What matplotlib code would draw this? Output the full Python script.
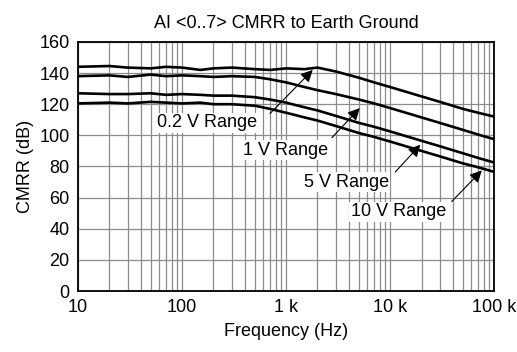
import matplotlib.pyplot as plt
from matplotlib.ticker import FixedLocator, LogLocator, NullFormatter

plt.rcParams['font.family'] = ['Liberation Sans', 'DejaVu Sans']

# Data
freq = [10, 20, 30, 50, 70, 100, 150, 200, 300, 500, 700, 1000, 1500,
        2000, 3000, 5000, 7000, 10000, 20000, 30000, 50000, 70000, 100000]
cmrr_02v = [144, 144.5, 143.5, 143, 144, 143.5, 142, 143, 143.5, 142.5, 142, 143,
            142.5, 143.5, 141, 137, 134, 131, 125, 121.5, 117, 114.5, 112]
cmrr_1v = [138, 138.5, 137.5, 139, 138, 138.5, 138, 137.5, 138, 137.5, 136, 134,
           131, 129, 126.5, 123, 120.5, 117.5, 111.5, 108, 103.5, 100.5, 97.5]
cmrr_5v = [127, 126.5, 126.5, 127, 126, 126.5, 126, 125.5, 125.5, 124.5, 123, 121,
           118, 116, 112.5, 108, 105.5, 102.5, 96.5, 93, 88.5, 85.5, 82.5]
cmrr_10v = [120.5, 121, 120.5, 121.5, 121, 120.5, 121, 120, 120, 119, 117, 114.5,
            111.5, 109.5, 106, 101.5, 99, 96, 90, 86.5, 82, 79.5, 76.5]

x_ticks = [10, 100, 1000, 10000, 100000]
x_labels = ["10", "100", "1 k", "10 k", "100 k"]
y_ticks = [0, 20, 40, 60, 80, 100, 120, 140, 160]

# label text, text position, arrow tail and tip
labels = ["0.2 V Range", "1 V Range", "5 V Range", "10 V Range"]
text_pos = [(175, 108), (980, 90.5), (3800, 70), (12000, 51)]
tail_pos = [(700, 114), (2750, 98.5), (11200, 76.5), (39000, 57.5)]
tip_pos = [(1800, 142), (5100, 117.5), (19500, 94), (76000, 77.5)]

fig = plt.figure(figsize=(5.17, 3.52), dpi=100)
ax = fig.add_axes([0.151, 0.173, 0.805, 0.708])

for series in [cmrr_02v, cmrr_1v, cmrr_5v, cmrr_10v]:
    ax.plot(freq, series, color='black', lw=1.9, zorder=3)

ax.set_xscale('log')
ax.set_xlim(10, 100000)
ax.set_ylim(0, 160)
ax.xaxis.set_major_locator(FixedLocator(x_ticks))
ax.set_xticklabels(x_labels)
ax.xaxis.set_minor_locator(LogLocator(base=10, subs=range(2, 10)))
ax.xaxis.set_minor_formatter(NullFormatter())
ax.set_yticks(y_ticks)

ax.grid(True, which='both', axis='x', color='#8c8c8c', lw=0.9)
ax.grid(True, which='major', axis='y', color='#8c8c8c', lw=0.9)
ax.tick_params(which='both', length=0, labelsize=13, pad=6)
for s in ax.spines.values():
    s.set_linewidth(1.3)

for lab, tp, tl, tip in zip(labels, text_pos, tail_pos, tip_pos):
    ax.text(tp[0], tp[1], lab, ha='center', va='center', fontsize=13, zorder=4,
            bbox=dict(facecolor='white', edgecolor='none', pad=1))
    ax.annotate("", xy=tip, xytext=tl,
                arrowprops=dict(arrowstyle='-|>', color='black', lw=0.8,
                                mutation_scale=18, shrinkA=0, shrinkB=0),
                zorder=5)

ax.set_title("AI <0..7> CMRR to Earth Ground", fontsize=13, pad=10)
ax.set_xlabel("Frequency (Hz)", fontsize=13, labelpad=5)
ax.set_ylabel("CMRR (dB)", fontsize=13, labelpad=4)

plt.savefig("out.png", dpi=100)
